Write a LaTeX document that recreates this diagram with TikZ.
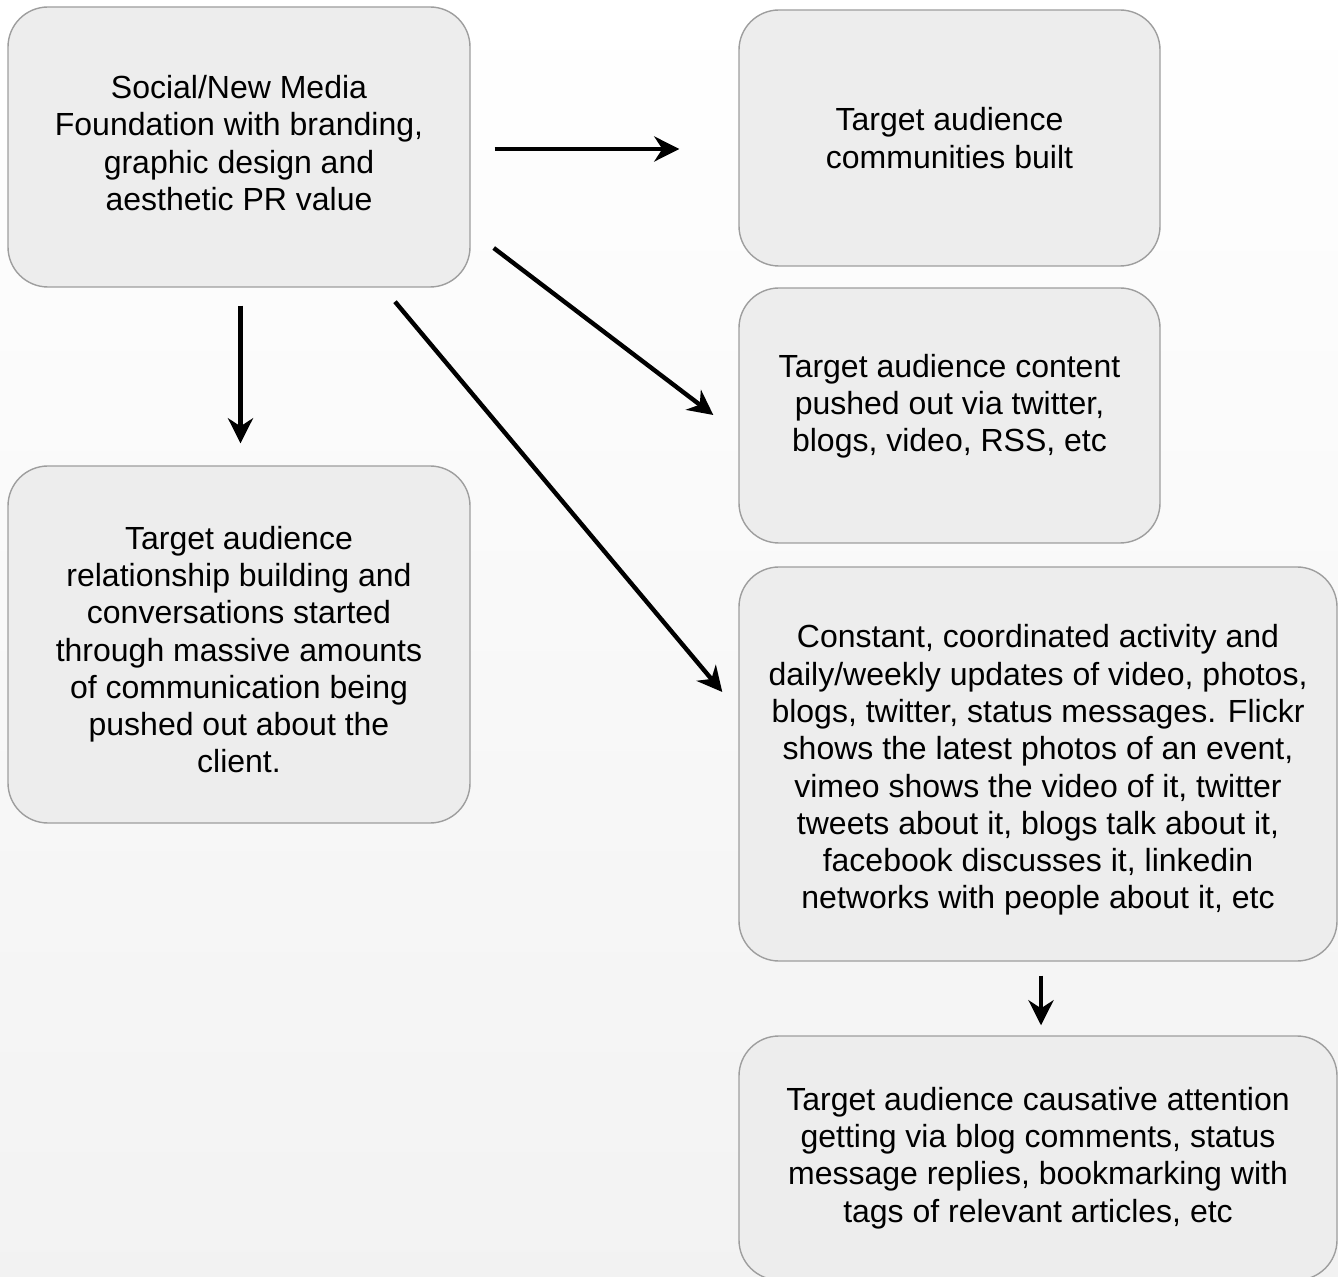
\documentclass[tikz,border=0pt]{standalone}
\usepackage{fontspec}
\setmainfont{Liberation Sans}
\usepackage{tikz}
\usetikzlibrary{arrows.meta, positioning}
\tikzset{
  mediabox/.style={rectangle, rounded corners=20pt, draw=black!38, fill=black!7, line width=0.7pt, font=\fontsize{16pt}{18.65pt}\selectfont, align=center, inner sep=0pt},
  flowarrow/.style={-{Stealth[length=12.5pt, width=12.5pt, inset=4pt]}, line width=2.2pt, black}
}
\begin{document}
\begin{tikzpicture}[x=0.5pt, y=-0.5pt]
  \useasboundingbox (0,0) rectangle (1338,1277);
  \shade[top color=white, bottom color=black!5] (0,0) rectangle (1338,1277);

  \node[mediabox, minimum width=231pt, minimum height=140pt] (foundation) at (239,147) {Social/New Media\\Foundation with branding,\\graphic design and\\aesthetic PR value\rule[-4pt]{0pt}{0pt}};
  \node[mediabox, minimum width=210.5pt, minimum height=128pt] (communities) at (949.5,138) {Target audience\\communities built};
  \node[mediabox, minimum width=210.5pt, minimum height=127.5pt] (content) at (949.5,415.5) {Target audience content\\pushed out via twitter,\\blogs, video, RSS, etc\rule[-12.4pt]{0pt}{0pt}};
  \node[mediabox, minimum width=231pt, minimum height=178.5pt] (relations) at (239,644.5) {\rule{0pt}{16.7pt}Target audience\\relationship building and\\conversations started\\through massive amounts\\of communication being\\pushed out about the\\client.};
  \node[mediabox, minimum width=299pt, minimum height=197pt] (activity) at (1038,764) {\rule{0pt}{17.7pt}Constant, coordinated activity and\\daily/weekly updates of video, photos,\\blogs, twitter, status messages. Flickr\\shows the latest photos of an event,\\vimeo shows the video of it, twitter\\tweets about it, blogs talk about it,\\facebook discusses it, linkedin\\networks with people about it, etc};
  \node[mediabox, minimum width=299pt, minimum height=122pt] (attention) at (1038,1158) {Target audience causative attention\\getting via blog comments, status\\message replies, bookmarking with\\tags of relevant articles, etc};

  \draw[flowarrow] ([shift={(24,2)}]foundation.east) -- ([shift={(-59,11)}]communities.west);
  \draw[flowarrow] ([shift={(1.5,18)}]foundation.south) -- ([shift={(1.5,-22)}]relations.north);
  \draw[flowarrow] ([shift={(23,101)}]foundation.east) -- ([shift={(-25,-0.5)}]content.west);
  \draw[flowarrow] ([shift={(156,14)}]foundation.south) -- ([shift={(-16,-72)}]activity.west);
  \draw[flowarrow] ([shift={(3,14)}]activity.south) -- ([shift={(3,-10)}]attention.north);
\end{tikzpicture}
\end{document}
